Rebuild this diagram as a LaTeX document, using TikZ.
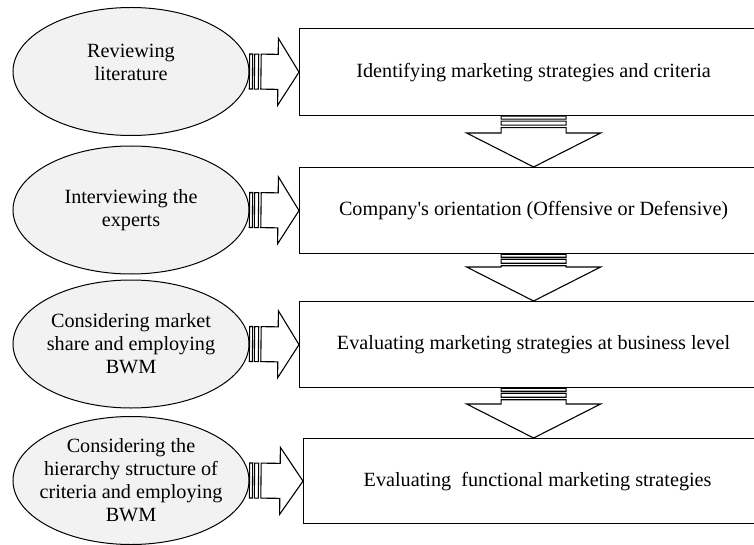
\documentclass[tikz,border=0pt]{standalone}
\usepackage{fontspec}
\setmainfont{Liberation Serif}
\usetikzlibrary{shapes.geometric,calc}

\definecolor{ovalfill}{HTML}{F2F2F2}

\tikzset{
  stage/.style={ellipse, draw, line width=1pt, fill=ovalfill,
    minimum width=236pt, minimum height=128pt, inner sep=0pt},
  stagetext/.style={align=center, inner sep=0pt,
    font=\fontsize{20.2}{23}\selectfont},
  taskbox/.style={draw, line width=1.2pt, fill=white, anchor=north west,
    minimum width=468pt, inner sep=0pt, font=\fontsize{20.2}{23}\selectfont},
  blockarrow/.style={draw, line width=1.1pt, fill=white, line join=miter},
}

% Striped block arrow from #1 to the tip #2;
% #3 half width of the shaft, #4 half width of the head, #5 head length
\newcommand\stripedarrow[5]{%
  \path[blockarrow] let \p1=(#1), \p2=(#2),
      \n1={veclen(\x2-\x1,\y2-\y1)}, \n2={atan2(\y2-\y1,\x2-\x1)} in
    [shift={(\p1)}, rotate=\n2]
    (0pt,-#3) -- (3pt,-#3) -- (3pt,#3) -- (0pt,#3) -- cycle
    (5pt,-#3) -- (9pt,-#3) -- (9pt,#3) -- (5pt,#3) -- cycle
    (11.5pt,-#3) -- ({\n1-#5},-#3) -- ({\n1-#5},-#4) -- (\n1,0pt)
      -- ({\n1-#5},#4) -- ({\n1-#5},#3) -- (11.5pt,#3) -- cycle;
}

\begin{document}
\begin{tikzpicture}[x=1pt,y=-1pt]
  \useasboundingbox (0,0) rectangle (754,545);
  \clip (0,0) rectangle (754,545);

  % method ovals
  \node[stage] (e1) at (131,71.5) {};
  \node[stage] (e2) at (131,210) {};
  \node[stage] (e3) at (131,344) {};
  \node[stage] (e4) at (131,480.5) {};
  \node[stagetext] (t1) at ($(e1.center)+(0,-9)$) {Reviewing\\literature};
  \node[stagetext] (t2) at (e2.center) {Interviewing the\\experts};
  \node[stagetext] (t3) at (e3.center) {Considering market\\share and employing\\BWM};
  \node[stagetext] (t4) at (e4.center) {Considering the\\hierarchy structure of\\criteria and employing\\BWM};

  % steps of the procedure
  \node[taskbox, minimum height=87pt] (b1) at (299,28)
    {Identifying marketing strategies and criteria};
  \node[taskbox, minimum height=86pt] (b2) at (299,167)
    {Company\textquotesingle s orientation (Offensive or Defensive)};
  \node[taskbox, minimum height=86pt] (b3) at (299,301)
    {Evaluating marketing strategies at business level};
  \node[taskbox, minimum height=85pt] (b4) at (303,438)
    {Evaluating\ \ functional marketing strategies};

  % oval -> step
  \stripedarrow{e1.east}{b1.west}{17.5pt}{33.5pt}{21pt}
  \stripedarrow{e2.east}{b2.west}{17.5pt}{33.5pt}{21pt}
  \stripedarrow{e3.east}{b3.west}{17.5pt}{33.5pt}{21pt}
  \stripedarrow{e4.east}{b4.west}{17.5pt}{33.5pt}{23pt}

  % step -> next step
  \stripedarrow{b1.south}{b2.north}{32.5pt}{67pt}{34pt}
  \stripedarrow{b2.south}{b3.north}{32.5pt}{67pt}{34pt}
  \coordinate (d3) at (b3.south |- b4.north);
  \stripedarrow{b3.south}{d3}{32.5pt}{67pt}{34pt}
\end{tikzpicture}
\end{document}
